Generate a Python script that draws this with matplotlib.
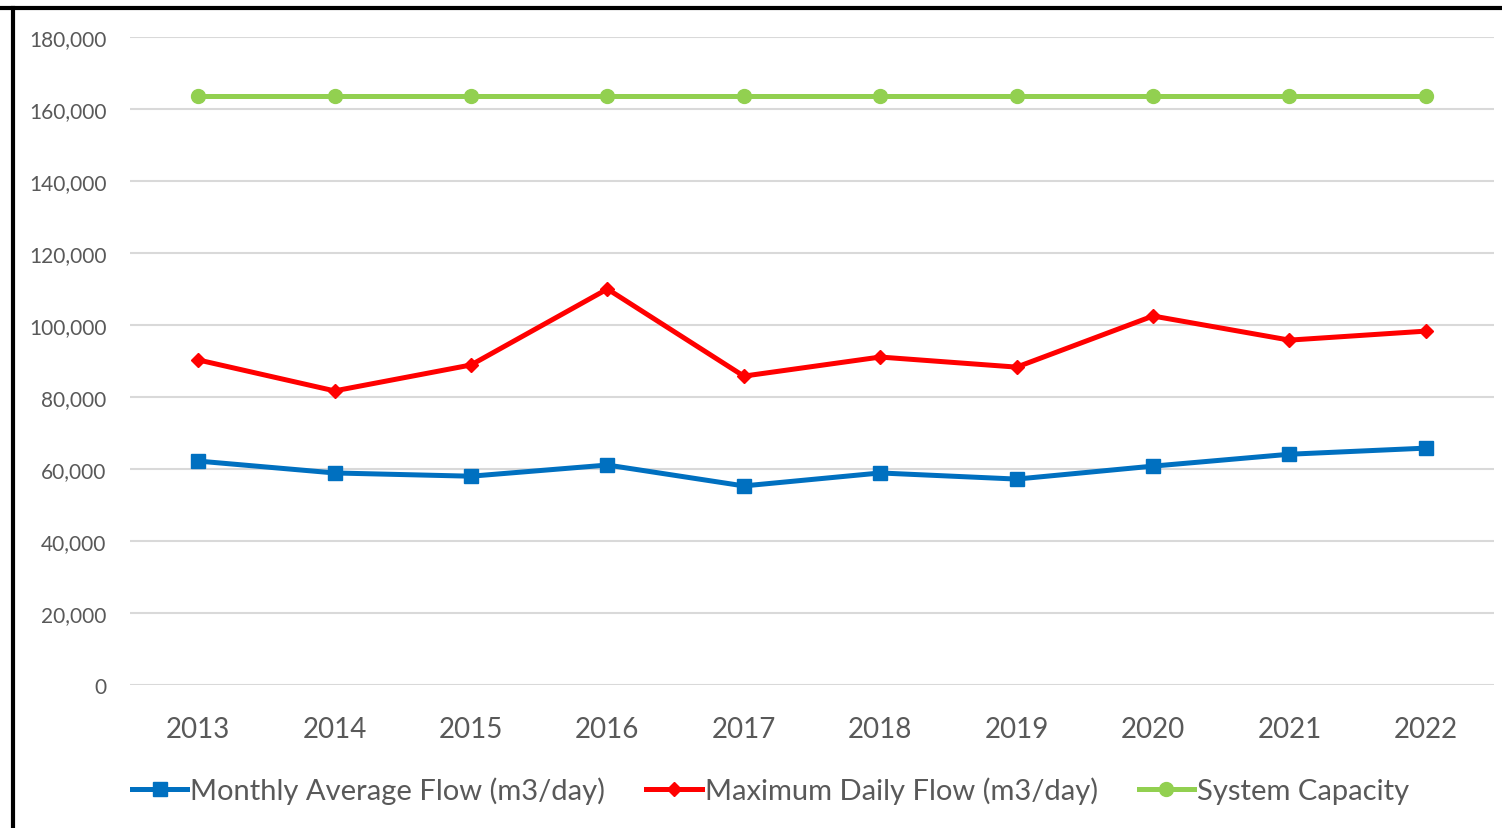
import matplotlib.pyplot as plt
from matplotlib.lines import Line2D
from matplotlib.ticker import FuncFormatter

years = ["2013", "2014", "2015", "2016", "2017", "2018", "2019", "2020", "2021", "2022"]
monthly_avg = [62200, 58900, 58000, 61100, 55300, 58900, 57200, 60800, 64100, 65800]
max_daily = [90300, 81700, 88900, 110000, 85800, 91100, 88300, 102500, 95800, 98300]
capacity = [163600] * 10

plt.rcParams['font.family'] = ['Lato', 'DejaVu Sans']

W, H = 1502, 829
fig = plt.figure(figsize=(W / 100, H / 100), dpi=100)
ax = fig.add_axes([130 / W, 1 - 686 / H, (1494 - 130) / W, (686 - 38) / H])

x = list(range(len(years)))
ax.plot(x, monthly_avg, color='#0070c0', lw=3.6, marker='s', ms=9.5,
        label='Monthly Average Flow (m3/day)')
ax.plot(x, max_daily, color='#ff0000', lw=3.6, marker='D', ms=7.5,
        label='Maximum Daily Flow (m3/day)')
ax.plot(x, capacity, color='#92d050', lw=3.6, marker='o', ms=10,
        label='System Capacity')

ax.set_xlim(-0.5, len(years) - 0.5)
ax.set_ylim(0, 180000)
ax.set_yticks(range(0, 180001, 20000))
ax.yaxis.set_major_formatter(FuncFormatter(lambda v, p: f"{int(v):,}"))
ax.set_xticks(x)
ax.set_xticklabels(years)
ax.grid(axis='y', color='#d9d9d9', lw=1.5)
ax.set_axisbelow(True)
for s in ax.spines.values():
    s.set_visible(False)
ax.tick_params(axis='both', length=0, colors='#595959')
ax.tick_params(axis='y', labelsize=15, pad=17)
ax.tick_params(axis='x', labelsize=20, pad=22)

fig.legend(loc='center', bbox_to_anchor=(0.513, 1 - 791 / H), ncol=3, frameon=False,
           fontsize=21, labelcolor='#595959', handlelength=1.9, handletextpad=0.1,
           columnspacing=1.4)

# black frame on top and left
fig.add_artist(Line2D([0, 1], [1 - 9 / H, 1 - 9 / H], color='black', lw=3))
fig.add_artist(Line2D([13 / W, 13 / W], [0, 1 - 9 / H], color='black', lw=3))

fig.savefig('out.png', dpi=100)
